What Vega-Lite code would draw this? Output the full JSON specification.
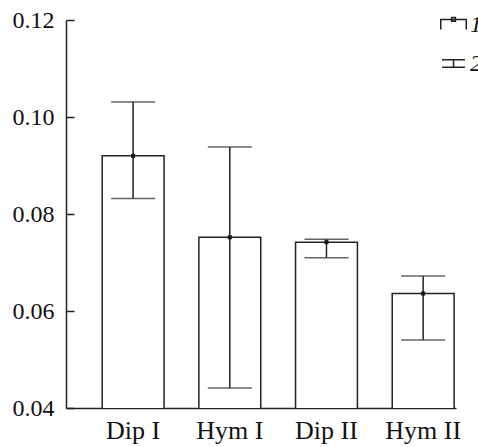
{
  "$schema": "https://vega.github.io/schema/vega-lite/v6.json",
  "autosize": "none",
  "width": 390,
  "height": 388,
  "padding": {"left": 66, "top": 20, "right": 22, "bottom": 39},
  "background": "white",
  "config": {
    "view": {"stroke": null},
    "font": "Liberation Serif",
    "axis": {"domainColor": "#222", "domainWidth": 1.5, "tickColor": "#222", "tickWidth": 1.5, "labelColor": "#111", "labelFont": "Liberation Serif", "labelFontSize": 24, "grid": false, "title": null}
  },
  "datasets": {
    "bars": [
      {"group": "Dip I", "mean": 0.0920, "lower": 0.0832, "upper": 0.1031},
      {"group": "Hym I", "mean": 0.0752, "lower": 0.0441, "upper": 0.0938},
      {"group": "Dip II", "mean": 0.0742, "lower": 0.0710, "upper": 0.0748},
      {"group": "Hym II", "mean": 0.0636, "lower": 0.0540, "upper": 0.0672}
    ],
    "legend": [
      {"series": "1"},
      {"series": "2"}
    ]
  },
  "layer": [
    {
      "data": {"name": "bars"},
      "mark": {"type": "bar", "fill": "white", "stroke": "#222", "strokeWidth": 1.5, "clip": true},
      "encoding": {
        "x": {"field": "group", "type": "nominal", "sort": null,
          "scale": {"paddingInner": 0.36, "paddingOuter": 0.197, "align": 0.95},
          "axis": {"labelAngle": 0, "ticks": false, "labelPadding": 9, "labelFontSize": 26}},
        "y": {"field": "mean", "type": "quantitative",
          "scale": {"domain": [0.04, 0.12], "zero": false, "nice": false},
          "axis": {"values": [0.04, 0.06, 0.08, 0.10, 0.12], "format": ".2f", "tickSize": -8, "labelPadding": 20}}
      }
    },
    {
      "data": {"name": "bars"},
      "mark": {"type": "rule", "stroke": "#222", "strokeWidth": 1.5},
      "encoding": {
        "x": {"field": "group", "type": "nominal", "sort": null},
        "y": {"field": "lower", "type": "quantitative"},
        "y2": {"field": "upper"}
      }
    },
    {
      "data": {"name": "bars"},
      "mark": {"type": "tick", "color": "#222", "size": 44, "thickness": 1.5, "orient": "horizontal"},
      "encoding": {
        "x": {"field": "group", "type": "nominal", "sort": null},
        "y": {"field": "upper", "type": "quantitative"}
      }
    },
    {
      "data": {"name": "bars"},
      "mark": {"type": "tick", "color": "#222", "size": 44, "thickness": 1.5, "orient": "horizontal"},
      "encoding": {
        "x": {"field": "group", "type": "nominal", "sort": null},
        "y": {"field": "lower", "type": "quantitative"}
      }
    },
    {
      "data": {"name": "bars"},
      "mark": {"type": "point", "shape": "square", "size": 16, "filled": true, "color": "#111", "opacity": 1},
      "encoding": {
        "x": {"field": "group", "type": "nominal", "sort": null},
        "y": {"field": "mean", "type": "quantitative"}
      }
    },
    {
      "data": {"name": "legend"},
      "mark": {"type": "point", "opacity": 0},
      "encoding": {
        "shape": {"field": "series", "type": "nominal",
          "scale": {"domain": ["1", "2"], "range": ["M-1,0.4V-0.4H1V0.4M-0.15,-0.55H0.15V-0.25H-0.15Z", "M-0.9,-0.3H0.9M0,-0.3V0.3M-0.9,0.3H0.9"]},
          "legend": {"title": null, "orient": "none", "legendX": 374, "legendY": -9, "padding": 0,
            "symbolSize": 650, "symbolStrokeColor": "#222", "symbolFillColor": "transparent", "symbolStrokeWidth": 1.5, "symbolOpacity": 1,
            "labelFont": "Liberation Serif", "labelFontStyle": "italic", "labelFontSize": 24, "labelColor": "#111", "labelOffset": 3, "rowPadding": 13}}
      }
    }
  ]
}
